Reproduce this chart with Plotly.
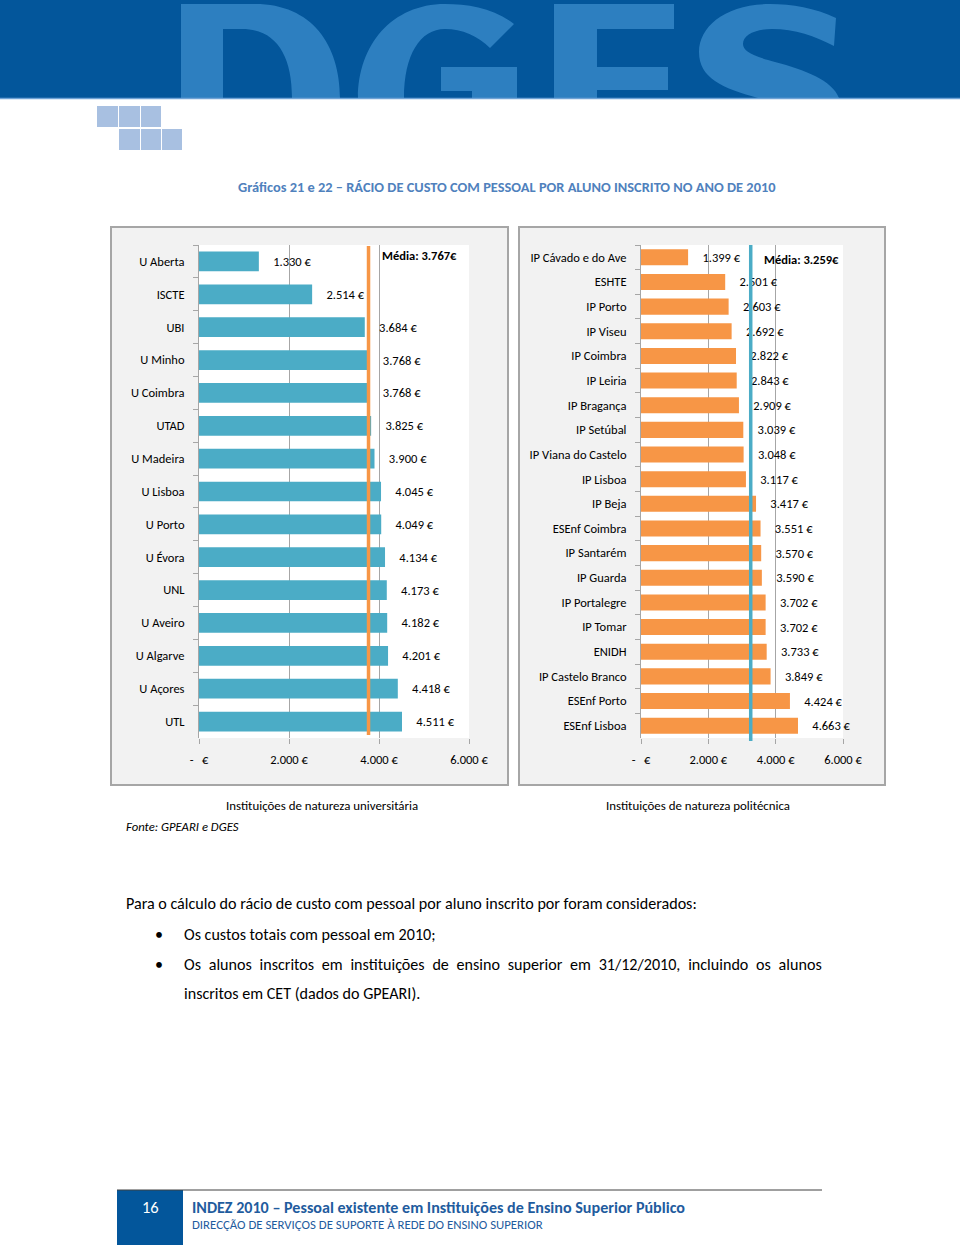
import plotly.graph_objects as go

# ---------------- data ----------------
uni_names = ["U Aberta", "ISCTE", "UBI", "U Minho", "U Coimbra", "UTAD", "U Madeira",
             "U Lisboa", "U Porto", "U Évora", "UNL", "U Aveiro", "U Algarve", "U Açores", "UTL"]
uni_values = [1330, 2514, 3684, 3768, 3768, 3825, 3900, 4045, 4049, 4134, 4173, 4182, 4201, 4418, 4511]
uni_mean = 3767

poli_names = ["IP Cávado e do Ave", "ESHTE", "IP Porto", "IP Viseu", "IP Coimbra", "IP Leiria",
              "IP Bragança", "IP Setúbal", "IP Viana do Castelo", "IP Lisboa", "IP Beja",
              "ESEnf Coimbra", "IP Santarém", "IP Guarda", "IP Portalegre", "IP Tomar", "ENIDH",
              "IP Castelo Branco", "ESEnf Porto", "ESEnf Lisboa"]
poli_values = [1399, 2501, 2603, 2692, 2822, 2843, 2909, 3039, 3048, 3117, 3417, 3551, 3570,
               3590, 3702, 3702, 3733, 3849, 4424, 4663]
poli_mean = 3259

x_tickvals = [0, 2000, 4000, 6000]
x_ticktext = ["-   €", "2.000 €", "4.000 €", "6.000 €"]

W, H = 960, 1245
FONT = "Carlito, Calibri, Lato, 'Open Sans', sans-serif"
BLUE_BAR = "#4bacc6"
ORANGE_BAR = "#f79646"


def px(x):
    return x / W


def py(y):
    return 1 - y / H


def eur(v):
    return f"{v:,}".replace(",", ".") + " €"


fig = go.Figure()

fig.add_trace(go.Bar(
    x=uni_values, y=uni_names, orientation="h", marker=dict(color=BLUE_BAR, line=dict(width=0)),
    width=0.6, text=["    " + eur(v) for v in uni_values], textposition="outside",
    textfont=dict(size=12.5, color="#000000", family=FONT), cliponaxis=False,
    constraintext="none", xaxis="x", yaxis="y", showlegend=False, hoverinfo="x+y"))

fig.add_trace(go.Bar(
    x=poli_values, y=poli_names, orientation="h", marker=dict(color=ORANGE_BAR, line=dict(width=0)),
    width=0.65, text=["    " + eur(v) for v in poli_values], textposition="outside",
    textfont=dict(size=12.5, color="#000000", family=FONT), cliponaxis=False,
    constraintext="none", xaxis="x2", yaxis="y2", showlegend=False, hoverinfo="x+y"))

axis_common_x = dict(range=[0, 6000], tickvals=x_tickvals, ticktext=x_ticktext,
                     showgrid=True, gridcolor="#a6a6a6", gridwidth=1, zeroline=False,
                     showline=False, ticks="outside", ticklen=5, tickcolor="#a6a6a6",
                     tickfont=dict(size=12.5, color="#000000", family=FONT),
                     ticklabelstandoff=5, fixedrange=True, automargin=False)
axis_common_y = dict(type="category", autorange="reversed", showgrid=False, zeroline=False,
                     showline=True, linecolor="#a6a6a6", linewidth=1, ticks="outside",
                     ticklen=5, tickcolor="#a6a6a6", tickson="boundaries",
                     tickfont=dict(size=12.5, color="#000000", family=FONT),
                     ticklabelstandoff=11, fixedrange=True, automargin=False)

fig.update_layout(
    template="none",
    autosize=False,
    width=W, height=H, margin=dict(l=0, r=0, t=0, b=0, pad=0, autoexpand=False),
    paper_bgcolor="white", plot_bgcolor="rgba(0,0,0,0)",
    font=dict(family=FONT, color="#000000"),
    showlegend=False,
    bargap=0.4,
    xaxis=dict(domain=[px(199), px(469)], anchor="y", **axis_common_x),
    yaxis=dict(domain=[py(738), py(245)], anchor="x", **axis_common_y),
    xaxis2=dict(domain=[px(641), px(843)], anchor="y2", **axis_common_x),
    yaxis2=dict(domain=[py(738), py(245)], anchor="x2", **axis_common_y),
)

shapes = []
# header band
shapes.append(dict(type="rect", xref="paper", yref="paper", x0=0, x1=1, y0=py(98), y1=1,
                   fillcolor="#03569b", line=dict(width=0), layer="below"))


def path(points_cmds):
    out = []
    for cmd in points_cmds:
        if isinstance(cmd, str):
            out.append(cmd)
        else:
            out.append(f"{px(cmd[0]):.5f},{py(cmd[1]):.5f}")
    return " ".join(out)


LETTER = "#2d7fc0"
# D
shapes.append(dict(type="path", xref="paper", yref="paper", layer="below",
                   fillcolor=LETTER, line=dict(width=0),
                   path=path(["M", (181, 4), "L", (255, 4), "C", (312, 4), (340, 45), (340, 98),
                              "L", (292, 98), "C", (292, 55), (276, 29), (242, 29),
                              "L", (223, 29), "L", (223, 98), "L", (181, 98), "Z"])))
# G
shapes.append(dict(type="path", xref="paper", yref="paper", layer="below",
                   fillcolor=LETTER, line=dict(width=0),
                   path=path(["M", (514, 24), "C", (494, 8), (468, 4), (445, 4),
                              "C", (392, 4), (358, 45), (358, 98), "L", (404, 98),
                              "C", (404, 55), (420, 29), (445, 29),
                              "C", (462, 29), (478, 36), (490, 48), "Z"])))
shapes.append(dict(type="path", xref="paper", yref="paper", layer="below",
                   fillcolor=LETTER, line=dict(width=0),
                   path=path(["M", (441, 67), "L", (517, 67), "L", (517, 98), "L", (472, 98),
                              "L", (472, 91), "L", (441, 91), "Z"])))
# E
shapes.append(dict(type="path", xref="paper", yref="paper", layer="below",
                   fillcolor=LETTER, line=dict(width=0),
                   path=path(["M", (554, 4), "L", (674, 4), "L", (674, 29), "L", (597, 29),
                              "L", (597, 67), "L", (668, 67), "L", (668, 90), "L", (597, 90),
                              "L", (597, 98), "L", (554, 98), "Z"])))
# S
shapes.append(dict(type="path", xref="paper", yref="paper", layer="below",
                   fillcolor=LETTER, line=dict(width=0),
                   path=path(["M", (836, 18), "C", (815, 8), (792, 4), (770, 4),
                              "C", (726, 4), (699, 26), (699, 52),
                              "C", (699, 78), (722, 88), (758, 98), "L", (839, 98),
                              "C", (832, 80), (805, 70), (775, 62),
                              "C", (752, 56), (743, 51), (743, 44),
                              "C", (743, 35), (755, 29), (772, 29),
                              "C", (795, 29), (815, 36), (834, 46), "Z"])))
# band underline
shapes.append(dict(type="line", xref="paper", yref="paper", x0=0, x1=1, y0=py(98.5), y1=py(98.5),
                   line=dict(color="#6fa3d6", width=1.5), layer="below"))
# squares
SQ = "#a8c0e1"
for (x0, x1, y0, y1) in [(97, 118, 106, 127), (119, 140, 106, 127), (141, 161, 106, 127),
                         (119, 140, 129, 150), (141, 161, 129, 150), (162, 182, 129, 150)]:
    shapes.append(dict(type="rect", xref="paper", yref="paper", x0=px(x0), x1=px(x1),
                       y0=py(y1), y1=py(y0), fillcolor=SQ, line=dict(width=0), layer="below"))

# chart boxes
for (x0, x1) in [(111, 508), (519, 885)]:
    shapes.append(dict(type="rect", xref="paper", yref="paper", x0=px(x0), x1=px(x1),
                       y0=py(785), y1=py(227), fillcolor="#f2f2f2",
                       line=dict(color="#a6a6a6", width=2), layer="below"))
# plot areas (white)
for (x0, x1) in [(199, 469), (641, 843)]:
    shapes.append(dict(type="rect", xref="paper", yref="paper", x0=px(x0), x1=px(x1),
                       y0=py(738), y1=py(245), fillcolor="#ffffff",
                       line=dict(width=0), layer="below"))

# mean lines
shapes.append(dict(type="line", xref="x", yref="y domain", x0=uni_mean, x1=uni_mean, y0=0.006, y1=0.998,
                   line=dict(color=ORANGE_BAR, width=3.5), layer="above"))
shapes.append(dict(type="line", xref="x2", yref="y2 domain", x0=poli_mean, x1=poli_mean, y0=-0.006, y1=1.0,
                   line=dict(color=BLUE_BAR, width=3.5), layer="above"))

# footer
shapes.append(dict(type="rect", xref="paper", yref="paper", x0=px(117), x1=px(183),
                   y0=0, y1=py(1190), fillcolor="#03569b", line=dict(width=0), layer="below"))
shapes.append(dict(type="line", xref="paper", yref="paper", x0=px(117), x1=px(822),
                   y0=py(1190), y1=py(1190), line=dict(color="#404040", width=1), layer="below"))

fig.update_layout(shapes=shapes)

ann = []


def text(x, y, s, size=12, color="#000000", anchor="left", bold=False, italic=False):
    if bold:
        s = f"<b>{s}</b>"
    if italic:
        s = f"<i>{s}</i>"
    ann.append(dict(xref="paper", yref="paper", x=px(x), y=py(y), text=s, showarrow=False,
                    xanchor=anchor, yanchor="middle", font=dict(size=size, color=color, family=FONT)))


# mean labels
ann.append(dict(xref="x", yref="paper", x=uni_mean, y=py(256), xshift=11, text=f"<b>Média: {eur(uni_mean).replace(' ', '')}</b>",
                showarrow=False, xanchor="left", yanchor="middle", font=dict(size=12.5, family=FONT, color="#000")))
ann.append(dict(xref="x2", yref="paper", x=poli_mean, y=py(259), xshift=11, text=f"<b>Média: {eur(poli_mean).replace(' ', '')}</b>",
                showarrow=False, xanchor="left", yanchor="middle", font=dict(size=12.5, family=FONT, color="#000")))

text(507, 187, "Gráficos 21 e 22 – RÁCIO DE CUSTO COM PESSOAL POR ALUNO INSCRITO NO ANO DE 2010",
     size=14.4, color="#4f81bd", anchor="center", bold=True)
text(322, 805, "Instituições de natureza universitária", size=12.9, anchor="center")
text(698, 805, "Instituições de natureza politécnica", size=12.9, anchor="center")
text(124, 826, "Fonte: GPEARI e DGES", size=12.7, italic=True)

text(124, 903, "Para o cálculo do rácio de custo com pessoal por aluno inscrito por foram considerados:", size=16.1)
text(153, 934, "•", size=16.1)
text(153, 964, "•", size=16.1)
text(182, 934, "Os custos totais com pessoal em 2010;", size=16.1)
text(182, 964, "<span style='word-spacing:4.1px'>Os alunos inscritos em instituições de ensino superior em 31/12/2010, incluindo os alunos</span>", size=16.1)
text(182, 993, "inscritos em CET (dados do GPEARI).", size=16.1)

text(150, 1207, "16", size=16.5, color="#ffffff", anchor="center")
text(190, 1207, "INDEZ 2010 – Pessoal existente em Instituições de Ensino Superior Público", size=16.1,
     color="#1f5c9e", bold=True)
text(190, 1224, "DIRECÇÃO DE SERVIÇOS DE SUPORTE À REDE DO ENSINO SUPERIOR", size=12.8, color="#1f5c9e")

fig.update_layout(annotations=ann)

fig.write_html("out.html", config={"displayModeBar": False, "responsive": False},
               post_script="document.body.style.margin='0';document.body.style.overflow='hidden';")
